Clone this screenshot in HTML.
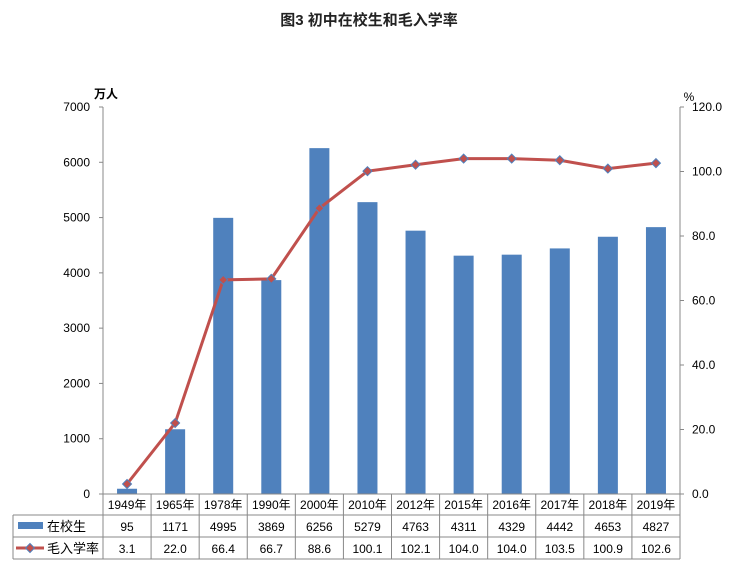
<!DOCTYPE html>
<html><head><meta charset="utf-8"><style>
body{margin:0;background:#fff;font-family:"Liberation Sans","Noto Sans CJK SC",sans-serif;}
svg text{font-family:"Liberation Sans","Noto Sans CJK SC",sans-serif;}
</style></head><body>
<svg id="c" width="738" height="569" xmlns="http://www.w3.org/2000/svg">
<text x="369" y="25" text-anchor="middle" font-size="15" font-weight="bold" fill="#222">图3  初中在校生和毛入学率</text>
<text x="106" y="98" text-anchor="middle" font-size="12" font-weight="bold" fill="#000">万人</text>
<text x="689" y="101" text-anchor="middle" font-size="12" fill="#000">%</text>
</svg>
<script>
const years=["1949年","1965年","1978年","1990年","2000年","2010年","2012年","2015年","2016年","2017年","2018年","2019年"];
const students=[95,1171,4995,3869,6256,5279,4763,4311,4329,4442,4653,4827];
const rate=[3.1,22.0,66.4,66.7,88.6,100.1,102.1,104.0,104.0,103.5,100.9,102.6];
const leftTicks=[0,1000,2000,3000,4000,5000,6000,7000];
const rightTicks=[0,20,40,60,80,100,120];
const svg=document.getElementById('c');const NS="http://www.w3.org/2000/svg";
const X0=103,X1=680,Y0=494,Y1=107,CW=(X1-X0)/years.length;
const yL=v=>Y0-(v/7000)*(Y0-Y1);
const yR=v=>Y0-(v/120)*(Y0-Y1);
const xc=i=>X0+CW*(i+0.5);
function mk(t,a,txt){const e=document.createElementNS(NS,t);for(const k in a)e.setAttribute(k,a[k]);if(txt!==undefined)e.textContent=txt;svg.appendChild(e);return e;}
let e;
e=mk('line',{x1:X0,y1:Y1,x2:X0,y2:Y0,stroke:'#888'});


e=mk('line',{x1:X1,y1:Y1,x2:X1,y2:Y0,stroke:'#888'});


leftTicks.forEach(v=>{mk('line',{x1:X0-4,x2:X0,y1:yL(v),y2:yL(v),stroke:'#888'});
e=mk('text',{x:90,y:yL(v)+4,'text-anchor':'end','font-size':12,fill:'#000'},String(v));

});
rightTicks.forEach(v=>{mk('line',{x1:X1,x2:X1+4,y1:yR(v),y2:yR(v),stroke:'#888'});
e=mk('text',{x:692,y:yR(v)+4,'font-size':12,fill:'#000'},v.toFixed(1));

});
students.forEach((v,i)=>{e=mk('rect',{x:xc(i)-10,y:yL(v),width:20,height:Y0-yL(v),fill:'#4f81bd'});

});
e=mk('polyline',{points:rate.map((v,i)=>xc(i)+','+yR(v)).join(' '),fill:'none',stroke:'#c0504d','stroke-width':3});


rate.forEach((v,i)=>{const x=xc(i),y=yR(v);e=mk('polygon',{points:`${x},${y-4.5} ${x+4.5},${y} ${x},${y+4.5} ${x-4.5},${y}`,fill:'#c0504d',stroke:'#4f81bd','stroke-width':1});

});
// table
const R=[494,515,537,559],TL=13;
mk('line',{x1:X0,x2:X1,y1:R[0],y2:R[0],stroke:'#888'});
for(let r=1;r<4;r++)mk('line',{x1:TL,x2:X1,y1:R[r],y2:R[r],stroke:'#888'});
mk('line',{x1:TL,x2:TL,y1:R[1],y2:R[3],stroke:'#888'});
for(let i=0;i<=years.length;i++)mk('line',{x1:X0+CW*i,x2:X0+CW*i,y1:R[0],y2:R[3],stroke:'#888'});
years.forEach((y,i)=>{e=mk('text',{x:xc(i),y:509,'text-anchor':'middle','font-size':12,fill:'#000'},y);


e=mk('text',{x:xc(i),y:531,'text-anchor':'middle','font-size':12,fill:'#000'},String(students[i]));


e=mk('text',{x:xc(i),y:553,'text-anchor':'middle','font-size':12,fill:'#000'},rate[i].toFixed(1));

});
e=mk('rect',{x:18,y:522,width:25,height:7,fill:'#4f81bd'});


e=mk('text',{x:47,y:531,'font-size':13,fill:'#000'},'在校生');


mk('line',{x1:16,x2:44,y1:548,y2:548,stroke:'#c0504d','stroke-width':3});
e=mk('polygon',{points:'30,543.5 34.5,548 30,552.5 25.5,548',fill:'#c0504d',stroke:'#4f81bd'});


e=mk('text',{x:47,y:553,'font-size':13,fill:'#000'},'毛入学率');


</script>
</body></html>
